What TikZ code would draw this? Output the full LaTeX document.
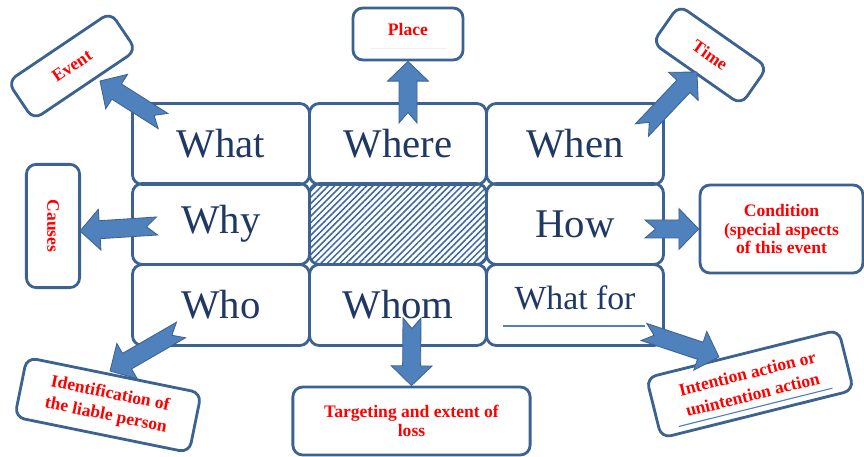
\documentclass[tikz,border=0pt]{standalone}
\usepackage{fontspec}
\setmainfont{Liberation Serif}
\usepackage{tikz}
\usetikzlibrary{calc,patterns.meta}

\definecolor{boxblue}{RGB}{60,98,145}
\definecolor{arrowblue}{RGB}{79,129,189}
\definecolor{wordblue}{RGB}{31,56,100}
\definecolor{hatchblue}{RGB}{62,104,165}

\tikzset{
  cell/.style={shape=rectangle, rounded corners=7pt, draw=boxblue, line width=2pt,
    minimum width=4.425cm, minimum height=2.025cm, text=wordblue,
    font=\fontsize{29}{32}\selectfont},
  hatched/.style={pattern={Lines[angle=45,distance=3.2pt,line width=1.1pt]}, pattern color=hatchblue},
  outbox/.style={shape=rectangle, rounded corners=7pt, draw=boxblue, line width=2pt,
    fill=white, text=red, align=center, inner sep=2pt,
    font=\bfseries\fontsize{12.5}{14}\selectfont},
  tiltbox/.style={outbox, font=\bfseries\fontsize{12.5}{15.5}\selectfont},
  blockarr/.style={fill=arrowblue, draw=boxblue, line width=0.6pt, line join=miter},
  underline/.style={draw=arrowblue, line width=0.8pt}
}

% notched block arrow from #1 (tail) to #2 (tip)
\newcommand{\blockarrow}[2]{%
  \path let \p1=(#1), \p2=(#2) in \pgfextra{%
    \pgfmathsetmacro\tmpang{atan2(\y2-\y1,\x2-\x1)}%
    \pgfmathsetmacro\tmplen{veclen(\x2-\x1,\y2-\y1)}%
    \xdef\arrang{\tmpang}\xdef\arrlen{\tmplen}%
    \xdef\arrx{\x1}\xdef\arry{\y1}};
  \draw[blockarr, shift={(\arrx,\arry)}, rotate=\arrang]
    (0pt,-6.4pt) -- (\arrlen pt-14pt,-6.4pt) -- (\arrlen pt-14pt,-14.5pt)
    -- (\arrlen pt,0pt) -- (\arrlen pt-14pt,14.5pt) -- (\arrlen pt-14pt,6.4pt)
    -- (0pt,6.4pt) -- (7.5pt,0pt) -- cycle;
}

\begin{document}
\begin{tikzpicture}[x=0.025cm,y=-0.025cm]
    \fill[white] (0,0) rectangle (864,457);
    \useasboundingbox (0,0) rectangle (864,457);

    % the grid
    \node[cell] (what)  at (221,144) {What};
    \node[cell] (where) at (398,144) {Where};
    \node[cell] (when)  at (575,144) {When};
    \node[cell] (why)   at (221,224) {Why};
    \node[cell,hatched] (mid) at (398,224) {};
    \node[cell] (how)   at (575,224) {How};
    \node[cell] (who)   at (221,305) {Who};
    \node[cell] (whom)  at (398,305) {Whom};
    \node[cell,font=\fontsize{24}{26}\selectfont,text depth=10pt] (whatfor) at (575,305) {What for};
    \draw[underline] (503,326) -- (645,326);

    % the outer boxes
    \node[outbox,rotate=34,minimum width=3.1cm,minimum height=1.15cm] (event) at (72,66) {Event};
    \node[outbox,minimum width=2.75cm,minimum height=1.3cm,text depth=7pt] (place) at (408,34) {Place};
    \draw[gray!12, line width=0.6pt] (370,48) -- (447,48);
    \node[outbox,rotate=-35,minimum width=2.7cm,minimum height=1.15cm] (time) at (710,55) {Time};
    \node[outbox,rotate=-90,minimum width=3.08cm,minimum height=1.33cm] (causes) at (53,226) {Causes};
    \node[outbox,minimum width=4.07cm,minimum height=2.2cm,font=\bfseries\fontsize{12.5}{13}\selectfont] (cond) at (781.5,229) {Condition\\(special aspects\\of this event};
    \node[tiltbox,rotate=-11.5,minimum width=4.45cm,minimum height=1.52cm] (ident) at (108,405) {Identification of\\the liable person};
    \node[outbox,minimum width=5.93cm,minimum height=1.7cm] (target) at (411.5,421) {Targeting and extent of\\loss};
    \node[tiltbox,rotate=14,minimum width=4.95cm,minimum height=1.55cm] (intent) at (750,384) {Intention action or\\unintention action};
    \begin{scope}[shift={(intent.center)},rotate=14]
      \draw[underline] (-79,24) -- (79,24);
    \end{scope}

    % arrow ends
    \coordinate (whatT)    at (163,121);
    \coordinate (eventP)   at (100,81);
    \coordinate (whereT)   at (408,123);
    \coordinate (whenT)    at (642,130);
    \coordinate (timeP)    at (697,72);
    \coordinate (whyT)     at (157,226);
    \coordinate (causesP)  at (80,231);
    \coordinate (howT)     at (645,229);
    \coordinate (whoT)     at (181,330);
    \coordinate (identP)   at (110,371);
    \coordinate (whomT)    at (412,318);
    \coordinate (whatforT) at (644,332);
    \coordinate (intentP)  at (719,357);

    % arrows
    \blockarrow{whatT}{eventP}
    \blockarrow{whereT}{place.south}
    \blockarrow{whenT}{timeP}
    \blockarrow{whyT}{causesP}
    \blockarrow{howT}{cond.west}
    \blockarrow{whoT}{identP}
    \blockarrow{whomT}{target.north}
    \blockarrow{whatforT}{intentP}
\end{tikzpicture}
\end{document}
